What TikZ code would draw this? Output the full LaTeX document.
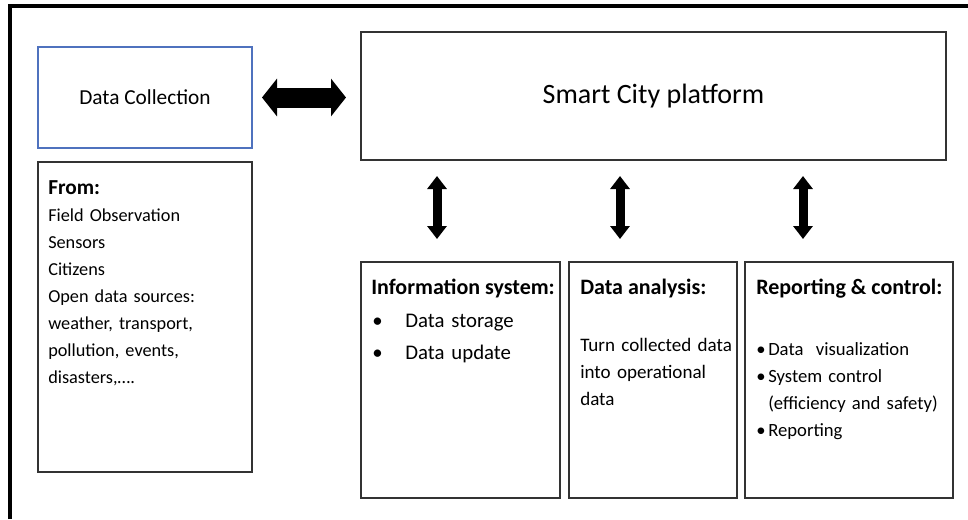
\documentclass[tikz,border=0pt]{standalone}
\usepackage{fontspec}
\setmainfont{Carlito}
\usepackage{xcolor}
\usetikzlibrary{arrows.meta}

\definecolor{dcblue}{RGB}{79,114,190}

\tikzset{
  box/.style={draw=black!80, line width=1pt, inner sep=0pt, outer sep=0pt},
  head/.style={font=\fontsize{16.5}{20}\selectfont\bfseries, inner sep=0pt, anchor=base west},
  body/.style={font=\fontsize{14}{20.25}\selectfont, inner sep=0pt, anchor=base west, align=left},
  hbig/.style={line width=15pt, {Triangle[length=11.25pt,width=27.75pt]}-{Triangle[length=11.25pt,width=27.75pt]}},
  vbig/.style={line width=6.75pt, {Triangle[length=9.75pt,width=14.25pt]}-{Triangle[length=9.75pt,width=14.25pt]}}
}

\begin{document}
\begin{tikzpicture}[x=0.75pt,y=-0.75pt]
\useasboundingbox (0,0) rectangle (968,519);
% frame
\draw[line width=3pt] (10,519) -- (10,6) -- (968,6);

% left column
\node[box, draw=dcblue, minimum width=160.5pt, minimum height=75.75pt,
      font=\fontsize{16}{20}\selectfont] (dc) at (145,97.5) {Data Collection};
\node[box, minimum width=160.5pt, minimum height=232.5pt] (from) at (145,317) {};
\node[head, font=\fontsize{16}{20}\selectfont\bfseries] (fromhd) at ([shift={(10,32)}]from.north west) {From:};
\node[body, font=\fontsize{13.7}{20.25}\selectfont, text width=150pt] (fromtxt) at ([shift={(10,59)}]from.north west)
  {Field Observation\\ Sensors\\ Citizens\\ Open data sources:\\ weather, transport,\\ pollution, events,\\ disasters,\ldots.};

% platform
\node[box, minimum width=438.75pt, minimum height=96pt,
      font=\fontsize{21}{25}\selectfont] (plat) at (653.5,96) {Smart City platform};

% lower boxes
\node[box, minimum width=149.25pt, minimum height=177pt] (info) at (460.5,380) {};
\node[box, minimum width=126pt, minimum height=177pt] (anal) at (653,380) {};
\node[box, minimum width=156pt, minimum height=177pt] (rep) at (849,380) {};

\node[head] (infohd) at ([shift={(10,32)}]info.north west) {Information system:};
\node[body, font=\fontsize{15.6}{24}\selectfont, text width=140pt] (infotxt) at ([shift={(11,65)}]info.north west)
  {\makebox[24.75pt][l]{\textbullet}Data storage\\ \makebox[24.75pt][l]{\textbullet}Data update};

\node[head] (analhd) at ([shift={(11,32)}]anal.north west) {Data analysis:};
\node[body, font=\fontsize{14.3}{20.25}\selectfont, text width=118pt] (analtxt) at ([shift={(11,89)}]anal.north west)
  {Turn collected data\\ into operational\\ data};

\node[head] (rephd) at ([shift={(11,32)}]rep.north west) {Reporting \& control:};
\node[body, text width=148pt] (reptxt) at ([shift={(11,93)}]rep.north west)
  {\makebox[9pt][l]{\textbullet}Data~~visualization\\
   \makebox[9pt][l]{\textbullet}System control\\
   \makebox[9pt][l]{}(efficiency and safety)\\
   \makebox[9pt][l]{\textbullet}Reporting};

% arrows
\coordinate (a1) at (437,0);
\coordinate (a2) at (620,0);
\coordinate (a3) at (803,0);
\draw[hbig, shorten <=7.5pt, shorten >=11.25pt] (dc.east) -- (plat.west |- dc.east);
\foreach \a/\b in {a1/info, a2/anal, a3/rep}
  \draw[vbig, shorten <=12pt, shorten >=17.25pt] (plat.south -| \a) -- (\b.north -| \a);
\end{tikzpicture}
\end{document}
